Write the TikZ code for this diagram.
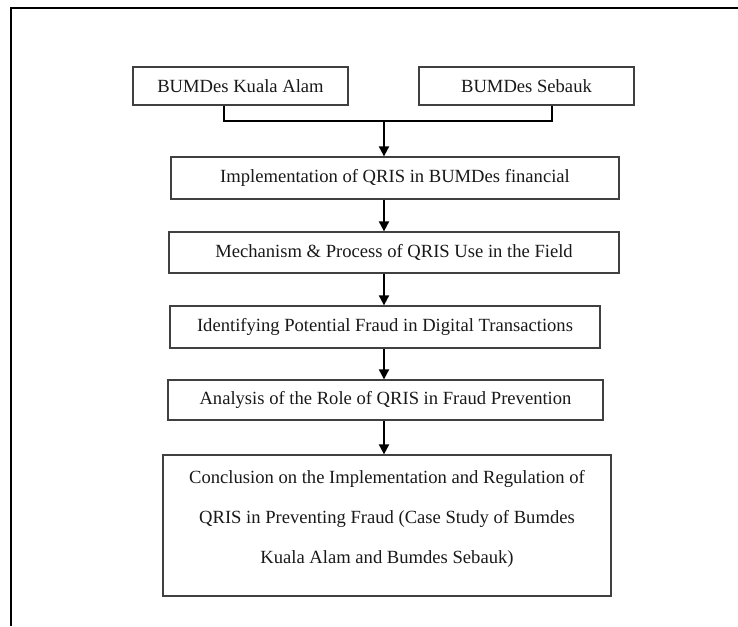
\documentclass[tikz,border=0pt]{standalone}
\usepackage{fontspec}
\setmainfont{Liberation Serif}
\usetikzlibrary{arrows.meta,positioning}
\tikzstyle{procbox} = [rectangle, draw=black!75, line width=1.3pt, inner sep=0pt, text centered, font=\fontsize{18.6}{40}\selectfont, text=black!90]
\tikzstyle{arrow} = [line width=2pt,->,>={Triangle[length=10pt,width=10pt]}]
\tikzstyle{joint} = [line width=2pt]

\begin{document}
\begin{tikzpicture}[x=1pt,y=-1pt]
	\useasboundingbox (0,0) rectangle (738,626);
	% outer frame
	\draw [line width=2.6pt](11,626) -- (11,8) -- (738,8);
	% sources
	\node [procbox,minimum width=215pt,minimum height=38pt] (kuala) at (240.5,86) {BUMDes Kuala Alam};
	\node [procbox,minimum width=215pt,minimum height=38pt] (sebauk) at (526.5,86) {BUMDes Sebauk};
	% steps
	\node [procbox,minimum width=448pt,minimum height=42pt] (impl) at (395,178) {Implementation of QRIS in BUMDes financial};
	\node [procbox,minimum width=450pt,minimum height=41pt] (mech) at (394,252.5) {Mechanism \& Process of QRIS Use in the Field};
	\node [procbox,minimum width=430pt,minimum height=42pt] (ident) at (385,327) {Identifying Potential Fraud in Digital Transactions};
	\node [procbox,minimum width=435pt,minimum height=40pt] (anal) at (385.5,400) {Analysis of the Role of QRIS in Fraud Prevention};
	\node [procbox,minimum width=448pt,minimum height=141pt,align=center] (concl) at (387,525.5) {Conclusion on the Implementation and Regulation of\\QRIS in Preventing Fraud (Case Study of Bumdes\\Kuala Alam and Bumdes Sebauk)\\[-22pt]\mbox{}};
	% connectors
	\coordinate (joinL) at (224,121);
	\coordinate (joinR) at (552,121);
	\coordinate (spine) at (384,121);
	\draw [joint](kuala.south -| joinL) -- (joinL) -- (joinR) -- (sebauk.south -| joinR);
	\draw [arrow](spine) -- (impl.north -| spine);
	\draw [arrow](impl.south -| spine) -- (mech.north -| spine);
	\draw [arrow](mech.south -| spine) -- (ident.north -| spine);
	\draw [arrow](ident.south -| spine) -- (anal.north -| spine);
	\draw [arrow](anal.south -| spine) -- (concl.north -| spine);
\end{tikzpicture}
\end{document}
